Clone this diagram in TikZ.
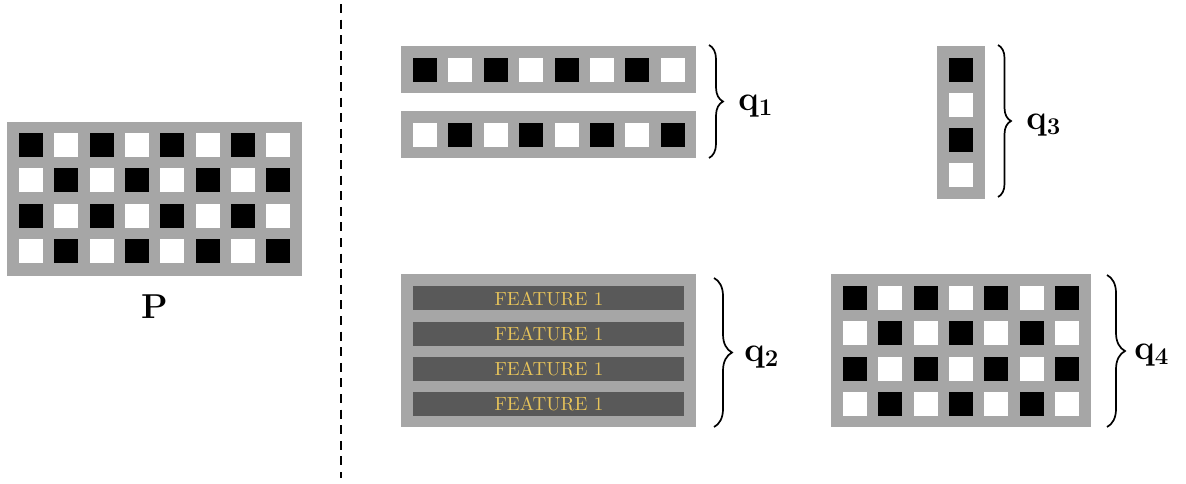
\documentclass[tikz,border=0pt]{standalone}
\usetikzlibrary{decorations.pathreplacing}
\definecolor{panelgray}{RGB}{166,166,166}
\definecolor{bardark}{RGB}{89,89,89}
\definecolor{featgold}{RGB}{232,196,90}

% checkerboard of small squares: x0, y0, columns, rows, parity offset, pitch
\newcommand\cellgrid[6]{%
  \foreach \ci in {1,...,#3}{%
    \foreach \cj in {1,...,#4}{%
      \pgfmathtruncatemacro\pty{mod(\ci+\cj+#5,2)}%
      \ifnum\pty=0 \def\cellcol{black}\else\def\cellcol{white}\fi
      \fill[\cellcol] ({#1+#6*(\ci-1)},{#2+#6*(\cj-1)}) rectangle ++(24,24);
    }%
  }%
}

\begin{document}
\begin{tikzpicture}[x=0.5pt,y=-0.5pt,
  panel/.style={fill=panelgray, draw=none, inner sep=0pt, anchor=north west},
  bar/.style={fill=bardark, draw=none, inner sep=0pt, anchor=north west,
    minimum width=135.5pt, minimum height=12pt,
    text=featgold, font=\fontsize{9.5}{10}\selectfont},
  curly/.style={decorate, line width=0.85pt},
  qlabel/.style={anchor=base west, inner sep=0pt, font=\fontsize{18}{20}\selectfont},
  divider/.style={line width=1pt, dash pattern=on 4.5pt off 3.3pt}]
\useasboundingbox (0,0) rectangle (1186,483);

% left: the full matrix P
\node[panel, minimum width=147.5pt, minimum height=77pt] (P) at (7,122) {};
\cellgrid{19}{133}{8}{4}{0}{35.3}
\node[anchor=base, inner sep=0pt, font=\fontsize{18.5}{20}\selectfont] (Plabel) at (154.5,318) {$\mathbf{P}$};

% dividing line
\coordinate (dtop) at (341,4);
\coordinate (dbot) at (341,478);
\draw[divider] (dtop) -- (dbot);

% q1: two rows
\node[panel, minimum width=147.5pt, minimum height=23.5pt] (q1a) at (401,46) {};
\node[panel, minimum width=147.5pt, minimum height=23.5pt] (q1b) at (401,111) {};
\cellgrid{413}{58}{8}{1}{0}{35.4}
\cellgrid{413}{123}{8}{1}{1}{35.4}
\coordinate (b1t) at (709,45);
\coordinate (b1b) at (709,158);
\draw[curly, decoration={brace, amplitude=7pt}] (b1t) -- (b1b);
\node[qlabel] (q1) at (738,110) {$\mathbf{q_1}$};

% q3: one column
\node[panel, minimum width=24pt, minimum height=76.5pt] (q3a) at (937,46) {};
\cellgrid{949}{58}{1}{4}{0}{35.1}
\coordinate (b3t) at (998,45);
\coordinate (b3b) at (998,197);
\draw[curly, decoration={brace, amplitude=6.5pt}] (b3t) -- (b3b);
\node[qlabel] (q3) at (1026,129) {$\mathbf{q_3}$};

% q2: feature rows
\node[panel, minimum width=147.5pt, minimum height=76.5pt] (q2a) at (401,274) {};
\foreach \k in {0,...,3}{
  \node[bar] (f\k) at (413,{286+35.3*\k}) {FEATURE 1};
}
\coordinate (b2t) at (714,278);
\coordinate (b2b) at (714,427);
\draw[curly, decoration={brace, amplitude=9pt}] (b2t) -- (b2b);
\node[qlabel] (q2) at (744,361) {$\mathbf{q_2}$};

% q4: sub-matrix
\node[panel, minimum width=130pt, minimum height=76.5pt] (q4a) at (831,274) {};
\cellgrid{843}{286}{7}{4}{0}{35.3}
\coordinate (b4t) at (1107,275);
\coordinate (b4b) at (1107,427);
\draw[curly, decoration={brace, amplitude=9pt}] (b4t) -- (b4b);
\node[qlabel] (q4) at (1134,359) {$\mathbf{q_4}$};
\end{tikzpicture}
\end{document}
